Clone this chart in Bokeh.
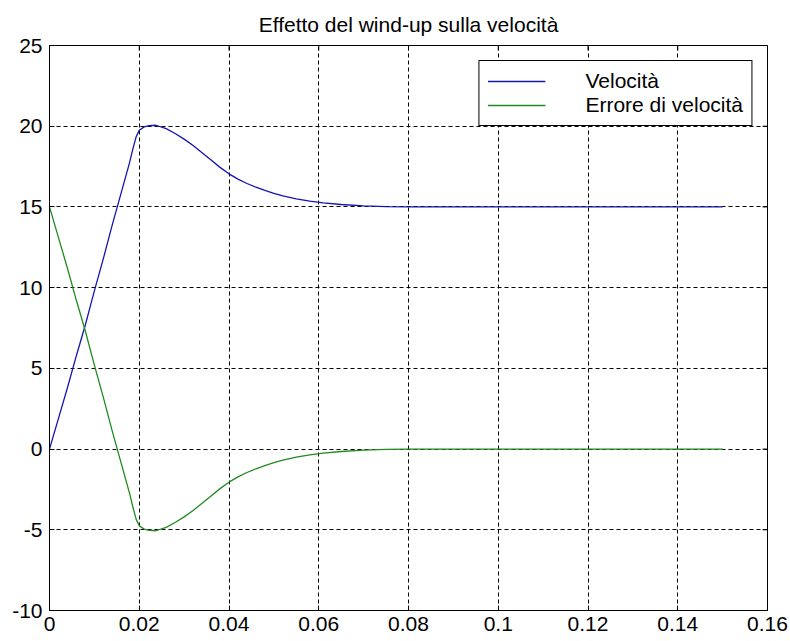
import math
from bokeh.plotting import figure
from bokeh.models import Range1d, FixedTicker, Legend, LegendItem
from bokeh.embed import file_html
from bokeh.resources import INLINE

# ---- data ----
time = [0.0, 0.002, 0.004, 0.006, 0.008, 0.010, 0.012, 0.014, 0.016, 0.0178,
        0.0185, 0.0193, 0.0200, 0.0211, 0.0222, 0.0237, 0.0260, 0.0280, 0.0300,
        0.0320, 0.0340, 0.0360, 0.0380, 0.0400, 0.0420, 0.0440, 0.0460, 0.0480,
        0.0500, 0.0520, 0.0550, 0.0580, 0.0610, 0.0650, 0.0700, 0.0750, 0.0800,
        0.0900, 0.1000, 0.1200, 0.1500]
velocita = [0.0, 1.9, 3.8, 5.8, 7.7, 9.8, 11.8, 13.9, 15.9, 17.7,
            18.5, 19.34, 19.75, 19.96, 20.03, 20.06, 19.85, 19.55, 19.2,
            18.8, 18.35, 17.9, 17.45, 17.05, 16.72, 16.45, 16.22, 16.02,
            15.84, 15.68, 15.5, 15.36, 15.25, 15.15, 15.07, 15.02, 15.0,
            15.0, 15.0, 15.0, 15.0]
errore = [15.0, 13.1, 11.2, 9.2, 7.3, 5.2, 3.2, 1.1, -0.9, -2.7,
          -3.5, -4.34, -4.75, -4.96, -5.03, -5.06, -4.85, -4.55, -4.2,
          -3.8, -3.35, -2.9, -2.45, -2.05, -1.72, -1.45, -1.22, -1.02,
          -0.84, -0.68, -0.5, -0.36, -0.25, -0.15, -0.07, -0.02, 0.0,
          0.0, 0.0, 0.0, 0.0]

x_ticks = [0.0, 0.02, 0.04, 0.06, 0.08, 0.10, 0.12, 0.14, 0.16]
x_tick_labels = ["0", "0.02", "0.04", "0.06", "0.08", "0.1", "0.12", "0.14", "0.16"]
y_ticks = [-10, -5, 0, 5, 10, 15, 20, 25]
y_tick_labels = ["-10", "-5", "0", "5", "10", "15", "20", "25"]

title_text = "Effetto del wind-up sulla velocità"
series_labels = ["Velocità", "Errore di velocità"]

FONT = "Liberation Sans"
X_MIN, X_MAX = x_ticks[0], x_ticks[-1]
Y_MIN, Y_MAX = y_ticks[0], y_ticks[-1]

p = figure(width=790, height=641, output_backend="svg", toolbar_location=None,
           x_range=Range1d(X_MIN, X_MAX), y_range=Range1d(Y_MIN, Y_MAX),
           min_border_left=49, min_border_right=23, min_border_top=45,
           min_border_bottom=31,
           background_fill_color="white", border_fill_color="white",
           outline_line_color="black", outline_line_width=1,
           title=title_text)

p.title.text_font = FONT
p.title.text_font_size = "21px"
p.title.text_font_style = "normal"
p.title.align = "center"
p.title.text_color = "black"
p.title.standoff = 19

x_over = {t: l for t, l in zip(x_ticks, x_tick_labels)}
y_over = {t: l for t, l in zip(y_ticks, y_tick_labels)}

for ax in p.xaxis:
    ax.ticker = FixedTicker(ticks=x_ticks)
    ax.major_label_overrides = x_over
    ax.major_label_standoff = 6
for ax in p.yaxis:
    ax.ticker = FixedTicker(ticks=y_ticks)
    ax.major_label_overrides = y_over
    ax.major_label_standoff = 7

for ax in list(p.xaxis) + list(p.yaxis):
    ax.major_tick_in = 5
    ax.major_tick_out = 0
    ax.minor_tick_in = 0
    ax.minor_tick_out = 0
    ax.axis_line_color = "black"
    ax.major_tick_line_color = "black"
    ax.major_label_text_font = FONT
    ax.major_label_text_font_size = "21px"
    ax.major_label_text_color = "black"

p.xgrid.ticker = FixedTicker(ticks=x_ticks)
p.ygrid.ticker = FixedTicker(ticks=y_ticks)
for g in (p.xgrid, p.ygrid):
    g.grid_line_color = "black"
    g.grid_line_dash = "4 3"
    g.grid_line_width = 1
    g.grid_line_alpha = 1

# inward tick marks on the top and right edges of the box (clipped to the frame)
p.scatter(x=x_ticks, y=[Y_MAX] * len(x_ticks), marker="dash", size=10,
          angle=math.pi / 2, line_color="black", line_width=1)
p.scatter(x=[X_MAX] * len(y_ticks), y=y_ticks, marker="dash", size=10,
          line_color="black", line_width=1)

r1 = p.line(time, velocita, line_color="#1414b4", line_width=1.3)
r2 = p.line(time, errore, line_color="#208a20", line_width=1.3)

legend = Legend(items=[LegendItem(label=series_labels[0], renderers=[r1]),
                       LegendItem(label=series_labels[1], renderers=[r2])],
                location="top_right")
legend.border_line_color = "black"
legend.border_line_width = 1
legend.border_line_alpha = 1
legend.background_fill_color = "white"
legend.background_fill_alpha = 1
legend.padding = 8
legend.margin = 15
legend.spacing = 0
legend.glyph_width = 58
legend.glyph_height = 20
legend.label_height = 20
legend.label_standoff = 40
legend.label_text_font = FONT
legend.label_text_font_size = "21px"
legend.label_text_line_height = 0.85
legend.label_text_color = "black"
p.add_layout(legend)

open("out.html", "w").write(file_html(p, INLINE))
